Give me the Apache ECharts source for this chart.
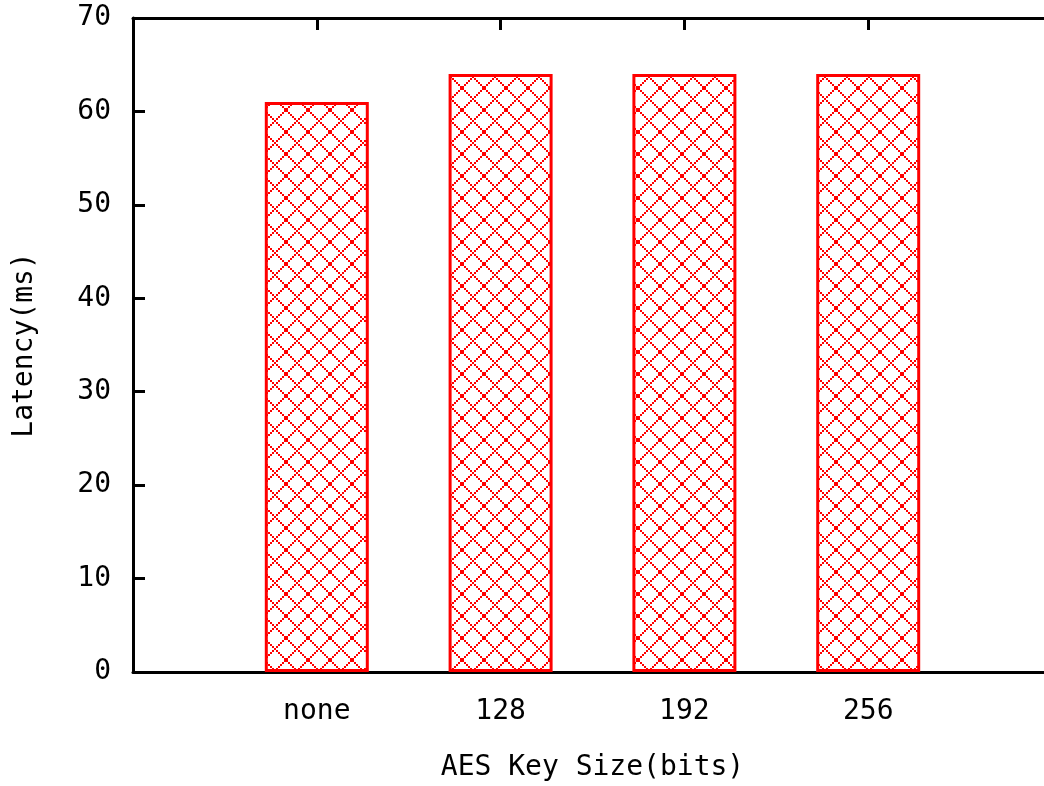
<!DOCTYPE html>
<html>
<head>
<meta charset="utf-8">
<script src="https://cdn.jsdelivr.net/npm/echarts@6/dist/echarts.min.js"></script>
<style>
html,body{margin:0;padding:0;background:#fff;}
#chart{width:1044px;height:786px;}
</style>
</head>
<body>
<div id="chart"></div>
<script>
const categories = ['none', '128', '192', '256'];
const latency = [61, 64, 64, 64];
const yTicks = [0, 10, 20, 30, 40, 50, 60, 70];

// padded category axis so that range runs from -1 to 4 like the original plot
const axisCats = [''].concat(categories).concat(['']);
const barData = [null].concat(latency).concat([null]);

// crosshatch pattern
const tile = 22;
const pc = document.createElement('canvas');
pc.width = tile; pc.height = tile;
const ctx = pc.getContext('2d');
ctx.fillStyle = '#ffffff';
ctx.fillRect(0, 0, tile, tile);
ctx.fillStyle = '#ff0000';
for (let k = 0; k < tile / 2; k++) {
  ctx.fillRect(2 * k, 2 * k, 2, 2);
  ctx.fillRect(tile - 2 - 2 * k, 2 * k, 2, 2);
}

const FONT = 'DejaVu Sans Mono';
const chart = echarts.init(document.getElementById('chart'), null, {renderer: 'canvas'});
chart.setOption({
  backgroundColor: '#ffffff',
  animation: false,
  grid: {left: 133, right: -8, top: 18, bottom: 114, containLabel: false, outerBoundsMode: 'none'},
  xAxis: [{
    type: 'category',
    data: axisCats,
    boundaryGap: false,
    position: 'bottom',
    name: 'AES Key Size(bits)',
    nameLocation: 'middle',
    nameGap: 82,
    nameTextStyle: {fontFamily: FONT, fontSize: 28, color: '#000'},
    axisLine: {lineStyle: {color: '#000', width: 3}},
    axisTick: {inside: true, length: 12, lineStyle: {color: '#000', width: 3}},
    axisLabel: {fontFamily: FONT, fontSize: 28, color: '#000', margin: 26, interval: 0},
    splitLine: {show: false}
  }, {
    type: 'category',
    data: axisCats,
    boundaryGap: false,
    position: 'top',
    axisLine: {lineStyle: {color: '#000', width: 3}},
    axisTick: {inside: true, length: 12, lineStyle: {color: '#000', width: 3}},
    axisLabel: {show: false},
    splitLine: {show: false}
  }],
  yAxis: {
    type: 'value',
    min: yTicks[0],
    max: yTicks[yTicks.length - 1],
    interval: 10,
    name: 'Latency(ms)',
    nameLocation: 'middle',
    nameGap: 94,
    nameRotate: 90,
    nameTextStyle: {fontFamily: FONT, fontSize: 28, color: '#000'},
    axisLine: {show: true, lineStyle: {color: '#000', width: 3}},
    axisTick: {show: true, inside: true, length: 12, lineStyle: {color: '#000', width: 3}},
    axisLabel: {fontFamily: FONT, fontSize: 28, color: '#000', margin: 22},
    splitLine: {show: false}
  },
  series: [{
    type: 'bar',
    data: barData,
    barWidth: 104,
    itemStyle: {
      color: {image: pc, repeat: 'repeat'},
      borderColor: '#ff0000',
      borderWidth: 3
    }
  }]
});
</script>
</body>
</html>
